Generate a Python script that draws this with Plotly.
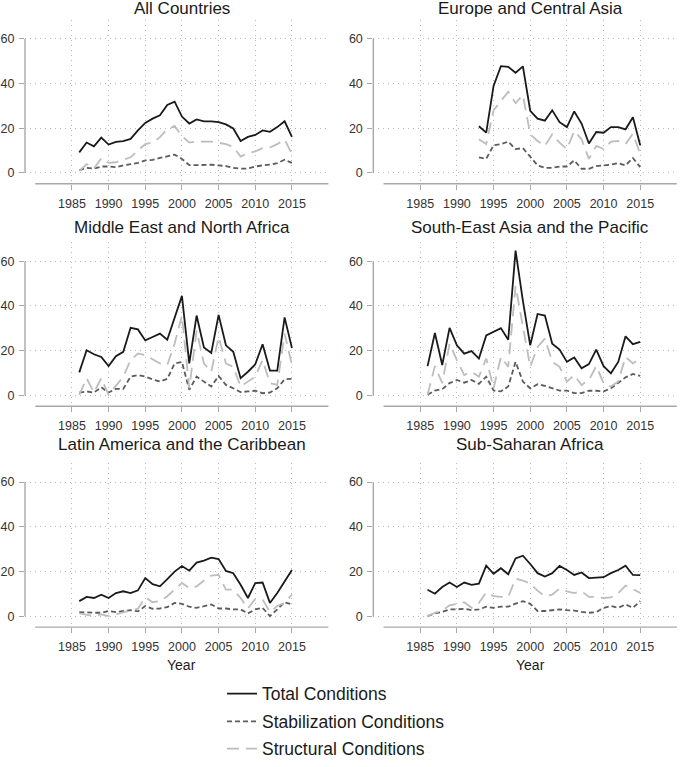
import plotly.graph_objects as go

years = list(range(1986, 2016))
europe_years = list(range(1993, 2016))

panel_titles = ["All Countries", "Europe and Central Asia", "Middle East and North Africa",
                "South-East Asia and the Pacific", "Latin America and the Caribbean", "Sub-Saharan Africa"]
series_names = ["Total Conditions", "Stabilization Conditions", "Structural Conditions"]
x_ticks = [1985, 1990, 1995, 2000, 2005, 2010, 2015]
y_ticks = [0, 20, 40, 60]

all_total = [9.2, 13.6, 11.9, 15.8, 12.7, 13.9, 14.2, 15.2, 19.0, 22.4, 24.3, 25.8, 30.4, 31.9, 25.2,
             22.1, 23.9, 23.1, 23.1, 22.7, 21.7, 19.9, 14.3, 16.1, 17.0, 19.0, 18.4, 20.5, 23.1, 16.1]
all_stab = [1.2, 2.3, 1.9, 2.9, 2.9, 2.6, 3.4, 3.8, 4.5, 5.6, 5.9, 6.7, 7.3, 8.2, 6.3,
            3.5, 3.5, 3.7, 3.7, 3.4, 3.1, 2.3, 1.9, 2.0, 2.9, 3.4, 3.7, 4.4, 5.9, 4.5]
all_struct = [0.9, 4.0, 2.0, 6.6, 4.5, 4.8, 5.9, 7.0, 10.0, 12.9, 13.6, 16.0, 19.5, 21.0, 16.5,
              13.6, 14.0, 14.0, 14.0, 13.5, 12.9, 11.7, 7.3, 8.8, 9.7, 11.1, 11.4, 12.9, 15.0, 8.5]

eca_total = [20.9, 18.0, 38.9, 47.7, 47.4, 44.8, 47.6, 27.8, 24.3, 23.4, 28.0, 22.7, 20.5, 27.5, 22.1,
             13.2, 18.3, 18.0, 20.5, 20.5, 19.5, 24.9, 12.4]
eca_stab = [7.0, 6.3, 12.4, 12.9, 14.0, 10.7, 11.1, 7.0, 3.4, 2.3, 2.3, 2.9, 2.9, 5.6, 1.9,
            1.9, 3.1, 3.4, 3.7, 4.4, 3.4, 6.7, 2.6]
eca_struct = [15.1, 12.9, 28.0, 32.0, 36.3, 31.2, 34.8, 17.3, 14.3, 12.1, 17.3, 13.6, 10.7, 18.7, 15.1,
              6.3, 12.1, 10.7, 14.0, 14.3, 12.9, 17.6, 8.5]

mena_total = [10.3, 20.2, 18.4, 17.2, 13.1, 17.5, 19.5, 30.2, 29.5, 24.6, 26.1, 27.6, 24.9, 34.2, 44.5,
              14.3, 35.7, 21.4, 19.0, 36.0, 22.4, 19.5, 7.7, 10.6, 13.9, 22.9, 11.1, 11.1, 34.9, 21.2]
mena_stab = [1.3, 1.8, 1.3, 3.7, 1.3, 2.9, 2.9, 8.4, 9.1, 8.4, 7.2, 6.2, 7.4, 14.3, 15.0,
             2.5, 8.4, 6.2, 4.0, 8.7, 4.7, 3.2, 1.5, 1.8, 2.1, 1.0, 1.3, 3.2, 7.2, 7.4]
mena_struct = [0.3, 7.7, 1.3, 7.7, 0.3, 4.3, 8.4, 15.8, 18.7, 18.0, 16.1, 14.3, 13.6, 23.1, 35.7,
               3.2, 29.0, 14.3, 10.6, 26.1, 14.3, 12.8, 4.0, 6.2, 8.4, 15.8, 5.5, 4.7, 27.6, 13.6]

sea_total = [13.1, 27.9, 13.6, 30.2, 22.4, 18.7, 19.8, 16.5, 26.8, 28.3, 30.1, 24.9, 64.7, 42.3, 22.4,
             36.4, 35.7, 23.1, 20.5, 15.0, 17.0, 12.1, 14.0, 20.5, 13.1, 9.9, 15.0, 26.4, 22.9, 23.9]
sea_stab = [0.3, 2.2, 2.8, 5.5, 6.9, 5.7, 6.9, 5.2, 8.4, 2.2, 1.8, 4.0, 15.0, 6.2, 3.2,
            5.0, 4.3, 3.2, 2.2, 2.2, 1.0, 1.0, 2.1, 2.1, 1.8, 3.2, 5.5, 8.1, 9.6, 8.7]
sea_struct = [0.3, 13.1, 5.5, 23.1, 15.8, 9.1, 10.6, 8.4, 16.5, 3.2, 17.2, 12.8, 48.9, 30.5, 12.8,
              21.7, 25.4, 15.0, 12.8, 6.2, 9.1, 4.7, 6.9, 13.1, 5.5, 4.0, 6.2, 17.2, 14.3, 16.5]

lac_total = [6.8, 8.7, 8.2, 9.7, 8.2, 10.4, 11.2, 10.4, 11.6, 17.1, 14.4, 13.4, 16.6, 20.0, 22.5,
             20.4, 24.0, 24.9, 26.2, 25.6, 20.3, 19.3, 14.1, 8.2, 14.9, 15.1, 6.0, 10.4, 15.6, 20.7]
lac_stab = [1.9, 1.6, 1.6, 1.6, 2.4, 1.9, 2.4, 2.8, 2.2, 4.6, 3.4, 3.5, 4.1, 6.0, 5.6,
            4.3, 3.8, 4.6, 5.3, 3.5, 3.5, 3.1, 3.1, 1.3, 3.1, 3.8, 0.1, 3.1, 6.3, 5.3]
lac_struct = [1.3, 0.6, 0.1, 0.9, 0.1, 0.9, 1.6, 2.6, 3.4, 8.5, 6.3, 6.8, 9.0, 11.9, 14.9,
              12.6, 13.4, 16.0, 18.2, 18.5, 11.9, 11.9, 8.2, 3.5, 7.8, 7.5, 1.9, 4.6, 6.0, 9.7]

ssa_total = [11.9, 10.1, 13.1, 15.1, 13.1, 15.1, 14.1, 14.6, 22.6, 19.0, 21.5, 18.8, 25.9, 27.1, 23.4,
             19.3, 17.8, 19.3, 22.5, 20.7, 18.5, 19.6, 17.1, 17.2, 17.5, 19.3, 20.7, 22.6, 18.5, 18.4]
ssa_stab = [0.1, 1.3, 2.0, 3.1, 3.1, 3.4, 2.8, 3.1, 4.3, 3.8, 4.3, 4.3, 5.7, 6.8, 5.6,
            2.4, 2.4, 2.8, 3.1, 2.8, 2.6, 2.0, 1.6, 1.9, 3.8, 4.6, 3.8, 5.3, 3.8, 6.8]
ssa_struct = [0.1, 1.6, 2.6, 4.9, 5.6, 6.3, 3.8, 6.0, 10.7, 9.0, 8.7, 8.7, 16.8, 16.0, 14.6,
              11.5, 9.0, 9.7, 12.4, 11.2, 10.4, 11.2, 8.7, 8.7, 8.2, 8.5, 10.4, 13.7, 12.2, 10.4]

panels = [
    (years, all_total, all_stab, all_struct),
    (europe_years, eca_total, eca_stab, eca_struct),
    (years, mena_total, mena_stab, mena_struct),
    (years, sea_total, sea_stab, sea_struct),
    (years, lac_total, lac_stab, lac_struct),
    (years, ssa_total, ssa_stab, ssa_struct),
]

W, H = 685, 767
FONT = "Liberation Sans, Arial, Helvetica, sans-serif"
styles = [
    dict(color="#1a1a1a", width=1.8, dash="solid"),
    dict(color="#5c5c5c", width=1.8, dash="5px,3px"),
    dict(color="#bdbdbd", width=1.8, dash="12px,7px"),
]

# pixel geometry
col_px = [(25.0, 328.6), (373.3, 676.9)]
row_px = [(20.0, 186.9), (246.3, 413.2), (471.0, 637.9)]
title_px = [9.0, 231.0, 452.0]
YR = [-4.8, 68.5]
XR = [1978.6, 2020]
GRID = dict(showgrid=True, gridcolor="#b8b8b8", griddash="1px,4px", gridwidth=1)

fig = go.Figure()
layout = dict(width=W, height=H, margin=dict(l=0, r=0, t=0, b=0),
              paper_bgcolor="white", plot_bgcolor="white",
              font=dict(family=FONT, color="#333333"), showlegend=True)
shapes = []
annotations = []
legend_y_px = [705.7, 734.0, 761.7]

for i, (xs, tot, stab, struc) in enumerate(panels):
    r, c = divmod(i, 2)
    n = "" if i == 0 else str(i + 1)
    xa, ya = "x" + n, "y" + n
    x0, x1 = col_px[c]
    y0, y1 = row_px[r]
    layout["xaxis" + n] = dict(domain=[x0 / W, x1 / W], range=XR, anchor=ya,
                               tickvals=x_ticks, ticks="outside", ticklen=5, tickwidth=1.2,
                               tickcolor="#a8a8a8", showline=False, zeroline=False,
                               ticklabelstandoff=3,
                               tickfont=dict(size=12.5, color="#333333", family=FONT), **GRID)
    layout["yaxis" + n] = dict(domain=[1 - y1 / H, 1 - y0 / H], range=YR, anchor=xa,
                               tickvals=y_ticks, ticks="outside", ticklen=5, tickwidth=1.2,
                               tickcolor="#a8a8a8", showline=False, zeroline=False,
                               ticklabelstandoff=2,
                               tickfont=dict(size=12.5, color="#333333", family=FONT), **GRID)
    # partial axis lines (Stata style)
    shapes.append(dict(type="line", xref=xa + " domain", yref=ya, x0=0, x1=0, y0=0, y1=60,
                       line=dict(color="#a8a8a8", width=1.4)))
    shapes.append(dict(type="line", xref=xa, yref=ya + " domain", x0=1980, x1=2020, y0=0, y1=0,
                       line=dict(color="#a8a8a8", width=1.4)))
    annotations.append(dict(text=panel_titles[i], xref=xa, x=2000, yref="paper",
                            y=1 - title_px[r] / H, xanchor="center", yanchor="middle",
                            showarrow=False, font=dict(size=17, color="#1a1a1a", family=FONT)))
    if r == 2:
        annotations.append(dict(text="Year", xref=xa, x=2000, yref="paper", y=1 - 676 / H,
                                xanchor="center", yanchor="middle", showarrow=False,
                                font=dict(size=14, color="#1a1a1a", family=FONT)))
    for k, vals in enumerate([tot, stab, struc]):
        leg = "legend" if k == 0 else "legend" + str(k + 1)
        fig.add_trace(go.Scatter(x=xs, y=vals, mode="lines", name=series_names[k],
                                 line=styles[k], xaxis=xa, yaxis=ya, hoverinfo="skip",
                                 showlegend=(i == 0), legend=leg))

for k in range(3):
    key = "legend" if k == 0 else "legend" + str(k + 1)
    layout[key] = dict(x=222 / W, xanchor="left", y=1 - legend_y_px[k] / H, yanchor="middle",
                       bgcolor="rgba(0,0,0,0)", borderwidth=0,
                       font=dict(size=17.5, color="#1a1a1a", family=FONT))

layout["shapes"] = shapes
layout["annotations"] = annotations
fig.update_layout(**layout)
fig.write_html("out.html", config={"displayModeBar": False},
               post_script="document.body.style.margin='0';document.body.style.padding='0';"
                           "document.body.style.overflow='hidden';")
